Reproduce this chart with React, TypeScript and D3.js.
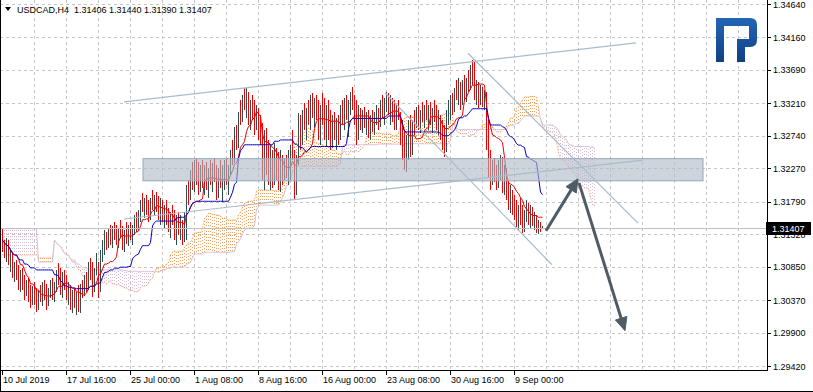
import * as d3 from 'd3';

// USDCAD H4, one value per bar (bar 0 = 10 Jul 2019 00:00)
const highs = [
  1.3141, 1.3124, 1.3127, 1.3124, 1.3109, 1.3106, 1.3092, 1.3095, 1.3088, 1.3080, 1.3083, 1.3073, 1.3066, 1.3069, 1.3059, 1.3057,
  1.3063, 1.3055, 1.3052, 1.3059, 1.3063, 1.3066, 1.3060, 1.3055, 1.3066, 1.3069, 1.3063, 1.3080, 1.3091, 1.3083, 1.3078, 1.3080,
  1.3073, 1.3063, 1.3059, 1.3052, 1.3055, 1.3049, 1.3059, 1.3060, 1.3066, 1.3073, 1.3078, 1.3092, 1.3098, 1.3092, 1.3083, 1.3105,
  1.3092, 1.3109, 1.3124, 1.3138, 1.3135, 1.3141, 1.3145, 1.3144, 1.3150, 1.3145, 1.3141, 1.3153, 1.3144, 1.3138, 1.3150, 1.3145,
  1.3150, 1.3145, 1.3160, 1.3164, 1.3167, 1.3181, 1.3191, 1.3184, 1.3189, 1.3181, 1.3184, 1.3196, 1.3189, 1.3193, 1.3187, 1.3184,
  1.3181, 1.3174, 1.3181, 1.3170, 1.3164, 1.3174, 1.3167, 1.3160, 1.3164, 1.3160, 1.3153, 1.3164, 1.3203, 1.3210, 1.3225, 1.3236,
  1.3239, 1.3242, 1.3236, 1.3232, 1.3239, 1.3232, 1.3236, 1.3228, 1.3239, 1.3235, 1.3242, 1.3232, 1.3228, 1.3239, 1.3232, 1.3239,
  1.3242, 1.3232, 1.3254, 1.3268, 1.3287, 1.3290, 1.3308, 1.3326, 1.3333, 1.3343, 1.3343, 1.3337, 1.3326, 1.3333, 1.3326, 1.3318,
  1.3314, 1.3304, 1.3292, 1.3282, 1.3285, 1.3268, 1.3261, 1.3254, 1.3264, 1.3256, 1.3251, 1.3254, 1.3246, 1.3242, 1.3246, 1.3254,
  1.3261, 1.3282, 1.3254, 1.3246, 1.3307, 1.3304, 1.3311, 1.3321, 1.3314, 1.3326, 1.3333, 1.3336, 1.3328, 1.3333, 1.3326, 1.3318,
  1.3336, 1.3328, 1.3318, 1.3326, 1.3311, 1.3304, 1.3308, 1.3300, 1.3304, 1.3318, 1.3326, 1.3328, 1.3333, 1.3326, 1.3337, 1.3344,
  1.3333, 1.3326, 1.3318, 1.3314, 1.3311, 1.3316, 1.3308, 1.3311, 1.3304, 1.3311, 1.3308, 1.3318, 1.3314, 1.3326, 1.3333, 1.3328,
  1.3337, 1.3336, 1.3333, 1.3328, 1.3326, 1.3318, 1.3326, 1.3308, 1.3297, 1.3282, 1.3275, 1.3297, 1.3304, 1.3297, 1.3311, 1.3316,
  1.3318, 1.3311, 1.3323, 1.3318, 1.3326, 1.3318, 1.3323, 1.3314, 1.3326, 1.3318, 1.3311, 1.3304, 1.3297, 1.3290, 1.3311, 1.3326,
  1.3333, 1.3336, 1.3343, 1.3354, 1.3357, 1.3352, 1.3354, 1.3362, 1.3357, 1.3369, 1.3376, 1.3383, 1.3380, 1.3354, 1.3352, 1.3347,
  1.3344, 1.3340, 1.3337, 1.3297, 1.3254, 1.3239, 1.3242, 1.3232, 1.3239, 1.3246, 1.3243, 1.3232, 1.3228, 1.3210, 1.3203, 1.3196,
  1.3189, 1.3181, 1.3174, 1.3184, 1.3174, 1.3167, 1.3181, 1.3177, 1.3174, 1.3171, 1.3164, 1.3160, 1.3153, 1.3150, 1.3144,
];

const lows = [
  1.3106, 1.3098, 1.3092, 1.3088, 1.3078, 1.3069, 1.3063, 1.3066, 1.3052, 1.3049, 1.3052, 1.3037, 1.3043, 1.3034, 1.3026, 1.3030,
  1.3030, 1.3020, 1.3023, 1.3034, 1.3029, 1.3037, 1.3023, 1.3029, 1.3040, 1.3037, 1.3034, 1.3049, 1.3059, 1.3044, 1.3040, 1.3052,
  1.3037, 1.3030, 1.3023, 1.3018, 1.3026, 1.3016, 1.3020, 1.3018, 1.3040, 1.3043, 1.3049, 1.3052, 1.3066, 1.3042, 1.3049, 1.3073,
  1.3040, 1.3049, 1.3092, 1.3102, 1.3109, 1.3112, 1.3117, 1.3112, 1.3124, 1.3117, 1.3112, 1.3127, 1.3109, 1.3106, 1.3118, 1.3115,
  1.3124, 1.3117, 1.3131, 1.3135, 1.3138, 1.3150, 1.3164, 1.3155, 1.3160, 1.3150, 1.3153, 1.3167, 1.3160, 1.3164, 1.3153, 1.3145,
  1.3150, 1.3141, 1.3145, 1.3135, 1.3127, 1.3145, 1.3124, 1.3117, 1.3131, 1.3124, 1.3117, 1.3121, 1.3124, 1.3174, 1.3181, 1.3196,
  1.3193, 1.3203, 1.3189, 1.3193, 1.3199, 1.3189, 1.3196, 1.3184, 1.3203, 1.3193, 1.3207, 1.3181, 1.3184, 1.3199, 1.3179, 1.3196,
  1.3203, 1.3189, 1.3217, 1.3232, 1.3235, 1.3254, 1.3256, 1.3290, 1.3294, 1.3311, 1.3300, 1.3290, 1.3282, 1.3297, 1.3275, 1.3282,
  1.3268, 1.3261, 1.3210, 1.3196, 1.3217, 1.3203, 1.3196, 1.3199, 1.3203, 1.3210, 1.3196, 1.3193, 1.3203, 1.3210, 1.3213, 1.3203,
  1.3210, 1.3239, 1.3181, 1.3189, 1.3232, 1.3254, 1.3261, 1.3282, 1.3268, 1.3290, 1.3282, 1.3300, 1.3285, 1.3297, 1.3268, 1.3261,
  1.3290, 1.3268, 1.3258, 1.3268, 1.3254, 1.3256, 1.3268, 1.3254, 1.3261, 1.3268, 1.3290, 1.3282, 1.3297, 1.3272, 1.3304, 1.3311,
  1.3290, 1.3261, 1.3268, 1.3282, 1.3278, 1.3285, 1.3275, 1.3271, 1.3268, 1.3279, 1.3275, 1.3290, 1.3282, 1.3287, 1.3300, 1.3290,
  1.3308, 1.3304, 1.3290, 1.3294, 1.3282, 1.3282, 1.3297, 1.3261, 1.3239, 1.3225, 1.3222, 1.3239, 1.3243, 1.3246, 1.3275, 1.3285,
  1.3282, 1.3278, 1.3294, 1.3285, 1.3297, 1.3282, 1.3290, 1.3278, 1.3294, 1.3282, 1.3275, 1.3268, 1.3254, 1.3243, 1.3251, 1.3290,
  1.3297, 1.3304, 1.3308, 1.3326, 1.3318, 1.3311, 1.3318, 1.3326, 1.3323, 1.3337, 1.3340, 1.3347, 1.3326, 1.3318, 1.3314, 1.3318,
  1.3316, 1.3311, 1.3254, 1.3215, 1.3196, 1.3203, 1.3207, 1.3196, 1.3199, 1.3210, 1.3191, 1.3189, 1.3181, 1.3167, 1.3163, 1.3160,
  1.3153, 1.3142, 1.3138, 1.3145, 1.3134, 1.3135, 1.3150, 1.3145, 1.3141, 1.3144, 1.3138, 1.3134, 1.3132, 1.3135, 1.3139,
];

const closes = [
  1.3115, 1.3102, 1.3121, 1.3092, 1.3098, 1.3075, 1.3086, 1.3072, 1.3060, 1.3072, 1.3055, 1.3049, 1.3060, 1.3040, 1.3037, 1.3052,
  1.3037, 1.3029, 1.3046, 1.3040, 1.3055, 1.3043, 1.3031, 1.3049, 1.3060, 1.3043, 1.3057, 1.3075, 1.3066, 1.3052, 1.3069, 1.3057,
  1.3043, 1.3049, 1.3029, 1.3037, 1.3031, 1.3043, 1.3026, 1.3055, 1.3046, 1.3066, 1.3055, 1.3086, 1.3072, 1.3052, 1.3080, 1.3098,
  1.3052, 1.3104, 1.3117, 1.3129, 1.3115, 1.3132, 1.3124, 1.3138, 1.3129, 1.3121, 1.3135, 1.3129, 1.3118, 1.3129, 1.3124, 1.3141,
  1.3129, 1.3141, 1.3150, 1.3141, 1.3161, 1.3174, 1.3170, 1.3179, 1.3164, 1.3155, 1.3176, 1.3173, 1.3181, 1.3168, 1.3160, 1.3167,
  1.3155, 1.3167, 1.3150, 1.3141, 1.3158, 1.3150, 1.3129, 1.3145, 1.3135, 1.3135, 1.3127, 1.3160, 1.3196, 1.3184, 1.3217, 1.3210,
  1.3228, 1.3213, 1.3196, 1.3225, 1.3207, 1.3217, 1.3202, 1.3222, 1.3210, 1.3228, 1.3216, 1.3196, 1.3219, 1.3203, 1.3210, 1.3222,
  1.3210, 1.3225, 1.3246, 1.3239, 1.3279, 1.3261, 1.3300, 1.3297, 1.3326, 1.3320, 1.3333, 1.3300, 1.3318, 1.3304, 1.3282, 1.3311,
  1.3275, 1.3268, 1.3225, 1.3254, 1.3228, 1.3210, 1.3239, 1.3207, 1.3246, 1.3216, 1.3203, 1.3232, 1.3225, 1.3236, 1.3217, 1.3239,
  1.3254, 1.3246, 1.3196, 1.3239, 1.3297, 1.3268, 1.3304, 1.3290, 1.3308, 1.3297, 1.3323, 1.3304, 1.3318, 1.3303, 1.3279, 1.3311,
  1.3297, 1.3275, 1.3304, 1.3274, 1.3261, 1.3294, 1.3274, 1.3285, 1.3268, 1.3311, 1.3297, 1.3320, 1.3303, 1.3314, 1.3328, 1.3318,
  1.3300, 1.3271, 1.3308, 1.3290, 1.3304, 1.3291, 1.3300, 1.3279, 1.3297, 1.3285, 1.3303, 1.3311, 1.3288, 1.3320, 1.3305, 1.3323,
  1.3326, 1.3311, 1.3328, 1.3300, 1.3288, 1.3314, 1.3303, 1.3268, 1.3254, 1.3232, 1.3265, 1.3282, 1.3254, 1.3290, 1.3282, 1.3308,
  1.3290, 1.3304, 1.3300, 1.3314, 1.3303, 1.3308, 1.3297, 1.3304, 1.3300, 1.3294, 1.3304, 1.3275, 1.3261, 1.3254, 1.3304, 1.3318,
  1.3326, 1.3311, 1.3337, 1.3331, 1.3349, 1.3320, 1.3346, 1.3333, 1.3352, 1.3343, 1.3369, 1.3354, 1.3331, 1.3343, 1.3326, 1.3337,
  1.3326, 1.3333, 1.3261, 1.3225, 1.3210, 1.3232, 1.3216, 1.3203, 1.3225, 1.3239, 1.3199, 1.3222, 1.3187, 1.3174, 1.3193, 1.3167,
  1.3158, 1.3150, 1.3167, 1.3153, 1.3141, 1.3160, 1.3173, 1.3153, 1.3167, 1.3150, 1.3155, 1.3138, 1.3150, 1.31406, 1.31407,
];
const firstOpen = 1.3138;

// cloud values for the 26 bars whose source lies before the first visible bar
const leadSpanA = [
  1.3102, 1.3102, 1.3102, 1.3102, 1.3102, 1.3102, 1.3102, 1.3102, 1.3102, 1.3102, 1.3102, 1.3102, 1.3102,
  1.3102, 1.3102, 1.3102, 1.3102, 1.3102, 1.3098, 1.3098, 1.3098, 1.3098, 1.3098, 1.3098, 1.3098, 1.3098,
];
const leadSpanB = [
  1.3140, 1.3140, 1.3140, 1.3140, 1.3140, 1.3140, 1.3140, 1.3140, 1.3140, 1.3140, 1.3140, 1.3140, 1.3140,
  1.3140, 1.3140, 1.3140, 1.3140, 1.3140, 1.3092, 1.3092, 1.3092, 1.3092, 1.3092, 1.3092, 1.3092, 1.3092,
];

const priceTicks = [1.3464, 1.3416, 1.3369, 1.3321, 1.3274, 1.3227, 1.3179, 1.3132, 1.3085, 1.3037, 1.299, 1.2942];
const timeLabels = [
  '10 Jul 2019', '17 Jul 16:00', '25 Jul 00:00', '1 Aug 08:00', '8 Aug 16:00',
  '16 Aug 00:00', '23 Aug 08:00', '30 Aug 16:00', '9 Sep 00:00',
];
const title = 'USDCAD,H4  1.31406 1.31440 1.31390 1.31407';
const lastPrice = 1.31407;

// drawn objects: [bar, price]
const zone = { from: 70.5, to: 350.5, top: 1.3241, bottom: 1.3209 };
const channels = [
  [[61, 1.3323], [317, 1.3408]],
  [[61, 1.3154], [320.5, 1.3239]],
  [[233, 1.3393], [318, 1.3148]],
  [[191.5, 1.3336], [275, 1.3088]],
];
const arrows = [
  [[272, 1.3137], [288, 1.3212]],
  [[288.5, 1.3206], [311.5, 1.2993]],
];

const n = highs.length;
const opens = closes.map((c, i) => (i === 0 ? firstOpen : closes[i - 1]));
const midRange = (end: number, len: number) => {
  const s = Math.max(0, end - len + 1);
  return ((d3.max(highs.slice(s, end + 1)) as number) + (d3.min(lows.slice(s, end + 1)) as number)) / 2;
};
const tenkan = d3.range(n).map((i) => midRange(i, 9));
const kijun = d3.range(n).map((i) => midRange(i, 26));
const spanA = [...leadSpanA, ...d3.range(n).map((i) => (tenkan[i] + kijun[i]) / 2)];
const spanB = [...leadSpanB, ...d3.range(n).map((i) => midRange(i, 52))];

export default function App() {
  const width = 813;
  const height = 392;
  const plotRight = 767;
  const plotBottom = 370;
  const font = "'Liberation Sans', Arial, sans-serif";

  const x = d3.scaleLinear().domain([0, 382.5]).range([2, plotRight]);
  const y = d3.scaleLinear().domain([1.2942, 1.3464]).range([366, 4]);
  const px = (v: number) => Math.round(v) + 0.5;

  const lineGen = d3
    .line<number>()
    .x((_, i) => px(x(i)))
    .y((d) => y(d));

  const up = '#2F4F4F';
  const down = '#F00000';

  const arrowHead = (a: number[], b: number[]) => {
    const x1 = x(a[0]), y1 = y(a[1]), x2 = x(b[0]), y2 = y(b[1]);
    const ang = Math.atan2(y2 - y1, x2 - x1);
    const len = 13, hw = 6;
    const bx = x2 - len * Math.cos(ang), by = y2 - len * Math.sin(ang);
    const p1 = [bx + hw * Math.sin(ang), by - hw * Math.cos(ang)];
    const p2 = [bx - hw * Math.sin(ang), by + hw * Math.cos(ang)];
    return { line: [x1, y1, bx + 2 * Math.cos(ang), by + 2 * Math.sin(ang)], head: `M${x2},${y2}L${p1[0]},${p1[1]}L${p2[0]},${p2[1]}Z` };
  };

  return (
    <svg
      width={width}
      height={height}
      style={{ position: 'absolute', left: 0, top: 0, display: 'block', background: '#fff' }}
      fontFamily={font}
    >
      <defs>
        <linearGradient id="logoGrad" x1="0" y1="0" x2="0" y2="1">
          <stop offset="0%" stopColor="#2466b4" />
          <stop offset="100%" stopColor="#0f3f86" />
        </linearGradient>
        <clipPath id="belowBox">
          <rect x={plotRight} y={Math.round(y(lastPrice)) + 7} width={50} height={20} />
        </clipPath>
      </defs>
      <rect width={width} height={height} fill="#fff" />

      {/* grid */}
      <g stroke="#c6c6c6" strokeDasharray="3,3" shapeRendering="crispEdges">
        {priceTicks.map((p) => (
          <line key={p} x1={0} x2={plotRight} y1={px(y(p))} y2={px(y(p))} />
        ))}
        {d3.range(16, 383, 16).map((b) => (
          <line key={b} x1={px(x(b))} x2={px(x(b))} y1={0} y2={plotBottom} />
        ))}
      </g>

      {/* ichimoku cloud */}
      <g strokeDasharray="1,2" shapeRendering="crispEdges">
        {spanA.map((a, j) => (
          <line
            key={j}
            x1={px(x(j))}
            x2={px(x(j))}
            y1={Math.round(y(a))}
            y2={Math.round(y(spanB[j]))}
            stroke={a >= spanB[j] ? '#F4A460' : '#D8BFD8'}
          />
        ))}
      </g>
      <path d={lineGen(spanA) as string} fill="none" stroke="#F4A460" strokeWidth={1} strokeDasharray="2,1" opacity={0.7} />
      <path d={lineGen(spanB) as string} fill="none" stroke="#D8BFD8" strokeWidth={1} />

      {/* bars */}
      <g shapeRendering="crispEdges">
        {highs.map((h, i) => (
          <line
            key={i}
            x1={px(x(i))}
            x2={px(x(i))}
            y1={Math.round(y(h))}
            y2={Math.max(Math.round(y(lows[i])), Math.round(y(h)) + 1)}
            stroke={closes[i] >= opens[i] ? up : down}
          />
        ))}
      </g>

      {/* tenkan / kijun */}
      <path d={lineGen(tenkan) as string} fill="none" stroke="#E80000" strokeWidth={1} />
      <path d={lineGen(kijun) as string} fill="none" stroke="#0000C8" strokeWidth={1} />

      {/* bid line */}
      <line x1={0} x2={plotRight} y1={px(y(lastPrice))} y2={px(y(lastPrice))} stroke="#c0c0c0" shapeRendering="crispEdges" />

      {/* zone */}
      <rect
        x={x(zone.from)}
        y={y(zone.top)}
        width={x(zone.to) - x(zone.from)}
        height={y(zone.bottom) - y(zone.top)}
        fill="#aeb9c5"
        fillOpacity={0.62}
        stroke="#98a8b8"
        strokeWidth={1}
      />

      {/* channels */}
      <g stroke="#a9bccb" strokeWidth={1.2}>
        {channels.map(([a, b], k) => (
          <line key={k} x1={x(a[0])} y1={y(a[1])} x2={x(b[0])} y2={y(b[1])} />
        ))}
      </g>

      {/* arrows */}
      <g stroke="#4e5c68" fill="#4e5c68">
        {arrows.map(([a, b], k) => {
          const ah = arrowHead(a, b);
          return (
            <g key={k}>
              <line x1={ah.line[0]} y1={ah.line[1]} x2={ah.line[2]} y2={ah.line[3]} strokeWidth={3} />
              <path d={ah.head} strokeWidth={1} />
            </g>
          );
        })}
      </g>

      {/* logo */}
      <path
        d="M716,62 V18 H750 Q757,18 757,25 V40 Q757,47 750,47 H745 V62 H737 V39 H749 V26 H724 V62 Z"
        fill="url(#logoGrad)"
      />

      {/* title */}
      <path d="M5,7 H11 L8,11 Z" fill="#000" />
      <text x={17} y={13} fontSize={9} fill="#000" style={{ whiteSpace: 'pre' }}>
        {title}
      </text>

      {/* right axis */}
      <g shapeRendering="crispEdges">
        <line x1={plotRight + 0.5} x2={plotRight + 0.5} y1={0} y2={plotBottom} stroke="#000" />
        {priceTicks.map((p) => (
          <line key={p} x1={plotRight} x2={plotRight + 4} y1={px(y(p))} y2={px(y(p))} stroke="#000" />
        ))}
      </g>
      {priceTicks.map((p) => {
        const hidden = Math.abs(y(p) - y(lastPrice)) < 10;
        return (
          <text
            key={p}
            x={plotRight + 6}
            y={y(p) + 3.5}
            fontSize={9}
            fill="#000"
            clipPath={hidden ? 'url(#belowBox)' : undefined}
          >
            {p.toFixed(5)}
          </text>
        );
      })}
      <rect x={plotRight - 1} y={Math.round(y(lastPrice)) - 6} width={45} height={13} fill="#000" />
      <text x={plotRight + 5} y={y(lastPrice) + 3.5} fontSize={9} fill="#fff">
        {lastPrice.toFixed(5)}
      </text>

      {/* bottom axis */}
      <g shapeRendering="crispEdges" stroke="#000">
        <line x1={0} x2={plotRight + 1} y1={plotBottom + 0.5} y2={plotBottom + 0.5} />
        {timeLabels.map((t, k) => (
          <line key={t} x1={px(x(k * 32))} x2={px(x(k * 32))} y1={plotBottom} y2={plotBottom + 5} />
        ))}
        <line x1={0.5} x2={0.5} y1={0} y2={height} />
        <line x1={0} x2={width} y1={height - 0.5} y2={height - 0.5} />
      </g>
      {timeLabels.map((t, k) => (
        <text key={t} x={Math.round(x(k * 32)) + 1} y={plotBottom + 13} fontSize={9} fill="#000">
          {t}
        </text>
      ))}
    </svg>
  );
}
